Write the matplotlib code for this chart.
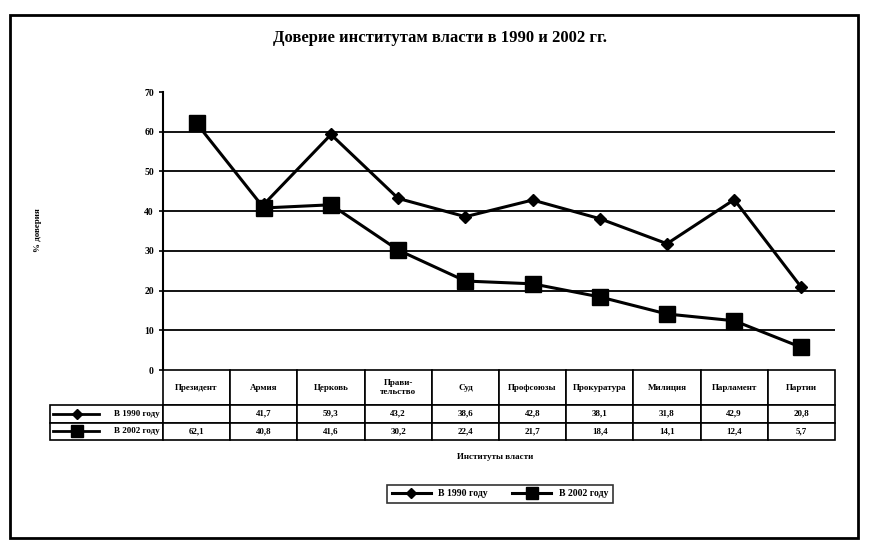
import matplotlib.pyplot as plt
from matplotlib.patches import Rectangle
import numpy as np

plt.rcParams['font.family'] = ['Liberation Serif', 'DejaVu Serif']
plt.rcParams['font.weight'] = 'bold'

categories = ['Президент', 'Армия', 'Церковь', 'Прави-\nтельство', 'Суд',
              'Профсоюзы', 'Прокуратура', 'Милиция', 'Парламент', 'Партии']
trust_1990 = [np.nan, 41.7, 59.3, 43.2, 38.6, 42.8, 38.1, 31.8, 42.9, 20.8]
trust_2002 = [62.1, 40.8, 41.6, 30.2, 22.4, 21.7, 18.4, 14.1, 12.4, 5.7]
label_1990 = 'В 1990 году'
label_2002 = 'В 2002 году'

fig = plt.figure(figsize=(8.69, 5.43), dpi=100)
fig.patches.append(Rectangle((10 / 869, 1 - 538 / 543), 848 / 869, 523 / 543,
                             transform=fig.transFigure, fill=False,
                             edgecolor='black', linewidth=2))

ax = fig.add_axes([163 / 869, 1 - 370 / 543, 672 / 869, 278 / 543])
x = np.arange(len(categories))
l1, = ax.plot(x, trust_1990, color='black', lw=2.2, marker='D', markersize=6,
              label=label_1990)
l2, = ax.plot(x, trust_2002, color='black', lw=2.2, marker='s', markersize=11,
              label=label_2002)

ax.set_xlim(-0.5, len(categories) - 0.5)
ax.set_ylim(0, 70)
ax.set_yticks(range(0, 71, 10))
ax.tick_params(axis='y', labelsize=7, length=3, width=1.2)
ax.set_xticks([])
for v in range(10, 70, 10):
    ax.axhline(v, color='black', lw=1.3, zorder=0)
for s in ['top', 'right', 'bottom']:
    ax.spines[s].set_visible(False)
ax.spines['left'].set_linewidth(1.5)

def fmt(v):
    return '' if np.isnan(v) else f'{v:.1f}'.replace('.', ',')

cell_text = [[''] + categories,
             [label_1990] + [fmt(v) for v in trust_1990],
             [label_2002] + [fmt(v) for v in trust_2002]]
tab = ax.table(cellText=cell_text, cellLoc='center',
               bbox=[-113 / 672, -70 / 278, 1 + 113 / 672, 70 / 278])
tab.auto_set_font_size(False)
for (r, c), cell in tab.get_celld().items():
    cell.set_linewidth(1.2)
    cell.get_text().set_fontsize(6.5)
    cell.set_height(2 if r == 0 else 1)
    cell.set_width(113 if c == 0 else 67.2)
    if r == 0 and c == 0:
        cell.visible_edges = ''
    if c == 0 and r > 0:
        cell.get_text().set_ha('right')
        cell.PAD = 0.03

# legend keys inside row-label cells
for yc, mk, ms in [(-(35 + 8.75) / 278, 'D', 5), (-(52.5 + 8.75) / 278, 's', 9)]:
    ax.plot([-0.163, -0.095], [yc, yc], color='black', lw=2,
            transform=ax.transAxes, clip_on=False)
    ax.plot([-0.128], [yc], color='black', marker=mk, markersize=ms,
            transform=ax.transAxes, clip_on=False)

fig.text(440 / 869, 1 - 38 / 543, 'Доверие институтам власти в 1990 и 2002 гг.',
         ha='center', va='center', fontsize=12, fontweight='bold')
fig.text(38 / 869, 1 - 230 / 543, '% доверия', rotation=90,
         ha='center', va='center', fontsize=6.5)
fig.text(495 / 869, 1 - 457 / 543, 'Институты власти',
         ha='center', va='center', fontsize=6.5)

leg = fig.legend(handles=[l1, l2], loc='center', ncol=2,
                 bbox_to_anchor=(500 / 869, 1 - 494 / 543), fontsize=7,
                 frameon=True, fancybox=False, edgecolor='black',
                 handlelength=4, markerscale=0.8, borderpad=0.45,
                 columnspacing=2.5)
leg.get_frame().set_linewidth(1.2)

fig.savefig('out.png', dpi=100)
